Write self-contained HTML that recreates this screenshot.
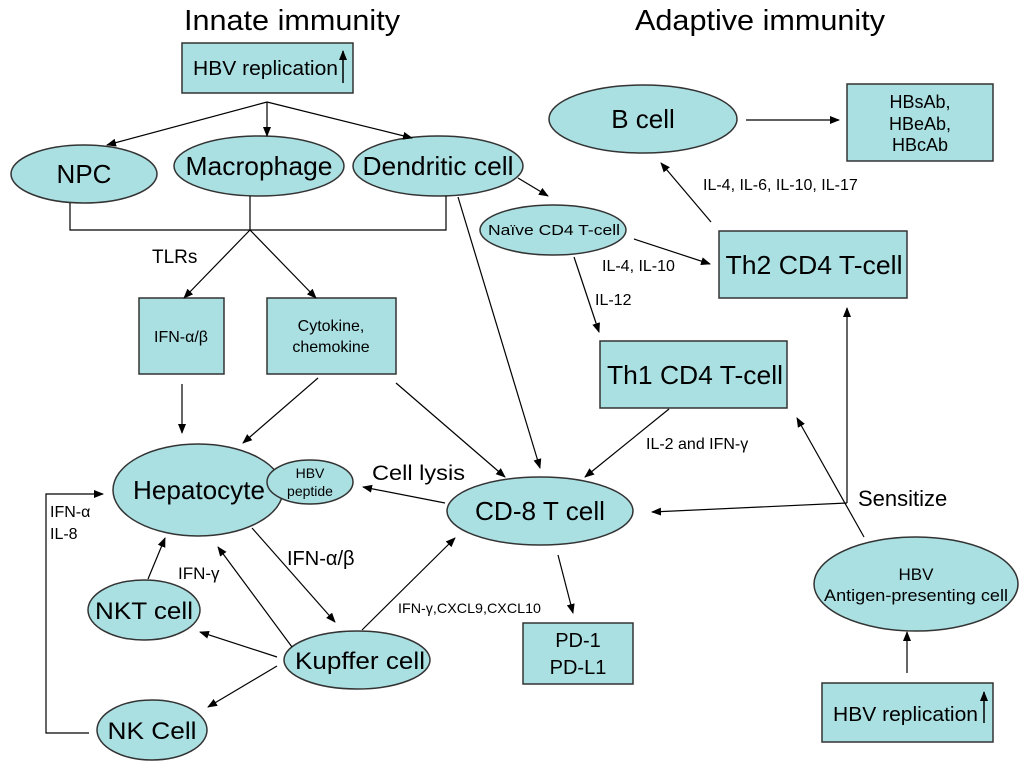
<!DOCTYPE html>
<html><head><meta charset="utf-8"><style>
html,body{margin:0;padding:0;background:#fff;width:1024px;height:771px;overflow:hidden}
svg{display:block}
text{font-family:"Liberation Sans",sans-serif;fill:#000}
</style></head><body>
<svg width="1024" height="771" viewBox="0 0 1024 771" xmlns="http://www.w3.org/2000/svg">
<defs><marker id="a" markerWidth="10" markerHeight="8" refX="9" refY="4" orient="auto" markerUnits="userSpaceOnUse"><path d="M0,0 L10,4 L0,8 z" fill="#000"/></marker></defs>
<g fill="#abe0e3" stroke="#333" stroke-width="1.5">
<rect x="182" y="43" width="171" height="50"/>
<ellipse cx="84" cy="174" rx="73" ry="29"/>
<ellipse cx="259" cy="166" rx="85" ry="30"/>
<ellipse cx="438" cy="166" rx="85" ry="30"/>
<rect x="139" y="298" width="85" height="76"/>
<rect x="267" y="298" width="129" height="76"/>
<ellipse cx="198" cy="490" rx="85" ry="46"/>
<ellipse cx="310" cy="482" rx="43" ry="22"/>
<ellipse cx="540" cy="511" rx="93" ry="34"/>
<ellipse cx="144" cy="610" rx="56" ry="30"/>
<ellipse cx="152" cy="730" rx="55" ry="30"/>
<ellipse cx="357" cy="660" rx="73" ry="29"/>
<rect x="523" y="623" width="110" height="61"/>
<ellipse cx="643" cy="119" rx="94" ry="34"/>
<rect x="847" y="84" width="146" height="77"/>
<ellipse cx="553" cy="230" rx="73" ry="25"/>
<rect x="719" y="231" width="188" height="67"/>
<rect x="600" y="341" width="187" height="67"/>
<ellipse cx="916" cy="584" rx="102" ry="47"/>
<rect x="822" y="683" width="171" height="59"/>
</g>
<g stroke="#000" stroke-width="1.2" fill="none">
<path d="M267,102 L107,145" marker-end="url(#a)"/>
<path d="M267,102 V136" marker-end="url(#a)"/>
<path d="M267,102 L412,138" marker-end="url(#a)"/>
<path d="M70,203 V230 H446 V196 M250,196 V230"/>
<path d="M250,230 L184,298" marker-end="url(#a)"/>
<path d="M250,230 L316,298" marker-end="url(#a)"/>
<path d="M182,384 V433" marker-end="url(#a)"/>
<path d="M318,378 L243,443" marker-end="url(#a)"/>
<path d="M396,383 L505,477" marker-end="url(#a)"/>
<path d="M458,197 L540,468" marker-end="url(#a)"/>
<path d="M518,178 L548,196" marker-end="url(#a)"/>
<path d="M445,503 L363,487" marker-end="url(#a)"/>
<path d="M89,733 H46 V494 H103" marker-end="url(#a)"/>
<path d="M252,528 L335,622" marker-end="url(#a)"/>
<path d="M148,579 L165,538" marker-end="url(#a)"/>
<path d="M292,647 L218,547" marker-end="url(#a)"/>
<path d="M277,657 L200,632" marker-end="url(#a)"/>
<path d="M277,666 L208,707" marker-end="url(#a)"/>
<path d="M362,630 L455,538" marker-end="url(#a)"/>
<path d="M558,555 L573,613" marker-end="url(#a)"/>
<path d="M746,120 L839,120" marker-end="url(#a)"/>
<path d="M711,222 L661,163" marker-end="url(#a)"/>
<path d="M634,239 L710,264" marker-end="url(#a)"/>
<path d="M574,257 L599,332" marker-end="url(#a)"/>
<path d="M669,409 L585,477" marker-end="url(#a)"/>
<path d="M847,503 L652,512" marker-end="url(#a)"/>
<path d="M847,503 V308" marker-end="url(#a)"/>
<path d="M864,537 L797,418" marker-end="url(#a)"/>
<path d="M907,673 V632" marker-end="url(#a)"/>
<path d="M343,83 V51" marker-end="url(#a)" stroke-width="1.5"/>
<path d="M984,723 V692" marker-end="url(#a)" stroke-width="1.5"/>
</g>
<text x="184" y="30" font-size="29" textLength="216" lengthAdjust="spacingAndGlyphs">Innate immunity</text>
<text x="635" y="30" font-size="29" textLength="250" lengthAdjust="spacingAndGlyphs">Adaptive immunity</text>
<text x="193" y="75" font-size="20" textLength="145" lengthAdjust="spacingAndGlyphs">HBV replication</text>
<g text-anchor="middle">
<text x="84" y="183" font-size="26">NPC</text>
<text x="259" y="175" font-size="26" textLength="147" lengthAdjust="spacingAndGlyphs">Macrophage</text>
<text x="438" y="175" font-size="26" textLength="151" lengthAdjust="spacingAndGlyphs">Dendritic cell</text>
<text x="181" y="342" font-size="16">IFN-α/β</text>
<text x="331" y="331" font-size="16">Cytokine,</text>
<text x="331" y="352" font-size="16">chemokine</text>
<text x="199" y="499" font-size="26" textLength="132" lengthAdjust="spacingAndGlyphs">Hepatocyte</text>
<text x="310" y="478" font-size="14">HBV</text>
<text x="310" y="496" font-size="14">peptide</text>
<text x="540" y="520" font-size="26" textLength="130" lengthAdjust="spacingAndGlyphs">CD-8 T cell</text>
<text x="144" y="619" font-size="24" textLength="98" lengthAdjust="spacingAndGlyphs">NKT cell</text>
<text x="152" y="739" font-size="24" textLength="89" lengthAdjust="spacingAndGlyphs">NK Cell</text>
<text x="360" y="669" font-size="24" textLength="130" lengthAdjust="spacingAndGlyphs">Kupffer cell</text>
<text x="578" y="647" font-size="20">PD-1</text>
<text x="578" y="674" font-size="20">PD-L1</text>
<text x="643" y="128" font-size="26">B cell</text>
<text x="920" y="108" font-size="18">HBsAb,</text>
<text x="920" y="130" font-size="18">HBeAb,</text>
<text x="920" y="151" font-size="18">HBcAb</text>
<text x="554" y="235" font-size="15" textLength="132" lengthAdjust="spacingAndGlyphs">Naïve CD4 T-cell</text>
<text x="814" y="274" font-size="26" textLength="177" lengthAdjust="spacingAndGlyphs">Th2 CD4 T-cell</text>
<text x="695" y="384" font-size="26" textLength="176" lengthAdjust="spacingAndGlyphs">Th1 CD4 T-cell</text>
<text x="916" y="580" font-size="17">HBV</text>
<text x="916" y="601" font-size="17" textLength="184" lengthAdjust="spacingAndGlyphs">Antigen-presenting cell</text>
</g>
<text x="833" y="721" font-size="20" textLength="145" lengthAdjust="spacingAndGlyphs">HBV replication</text>
<text x="152" y="263" font-size="19">TLRs</text>
<text x="372" y="480" font-size="21" textLength="93" lengthAdjust="spacingAndGlyphs">Cell lysis</text>
<text x="287" y="565" font-size="20">IFN-α/β</text>
<text x="50" y="517" font-size="16">IFN-α</text>
<text x="50" y="539" font-size="16">IL-8</text>
<text x="178" y="579" font-size="17">IFN-γ</text>
<text x="398" y="613" font-size="14" textLength="143" lengthAdjust="spacingAndGlyphs">IFN-γ,CXCL9,CXCL10</text>
<text x="703" y="190" font-size="16">IL-4, IL-6,  IL-10,  IL-17</text>
<text x="602" y="271" font-size="16">IL-4, IL-10</text>
<text x="595" y="305" font-size="16">IL-12</text>
<text x="646" y="449" font-size="16">IL-2 and IFN-γ</text>
<text x="858" y="506" font-size="22">Sensitize</text>
</svg>
</body></html>
